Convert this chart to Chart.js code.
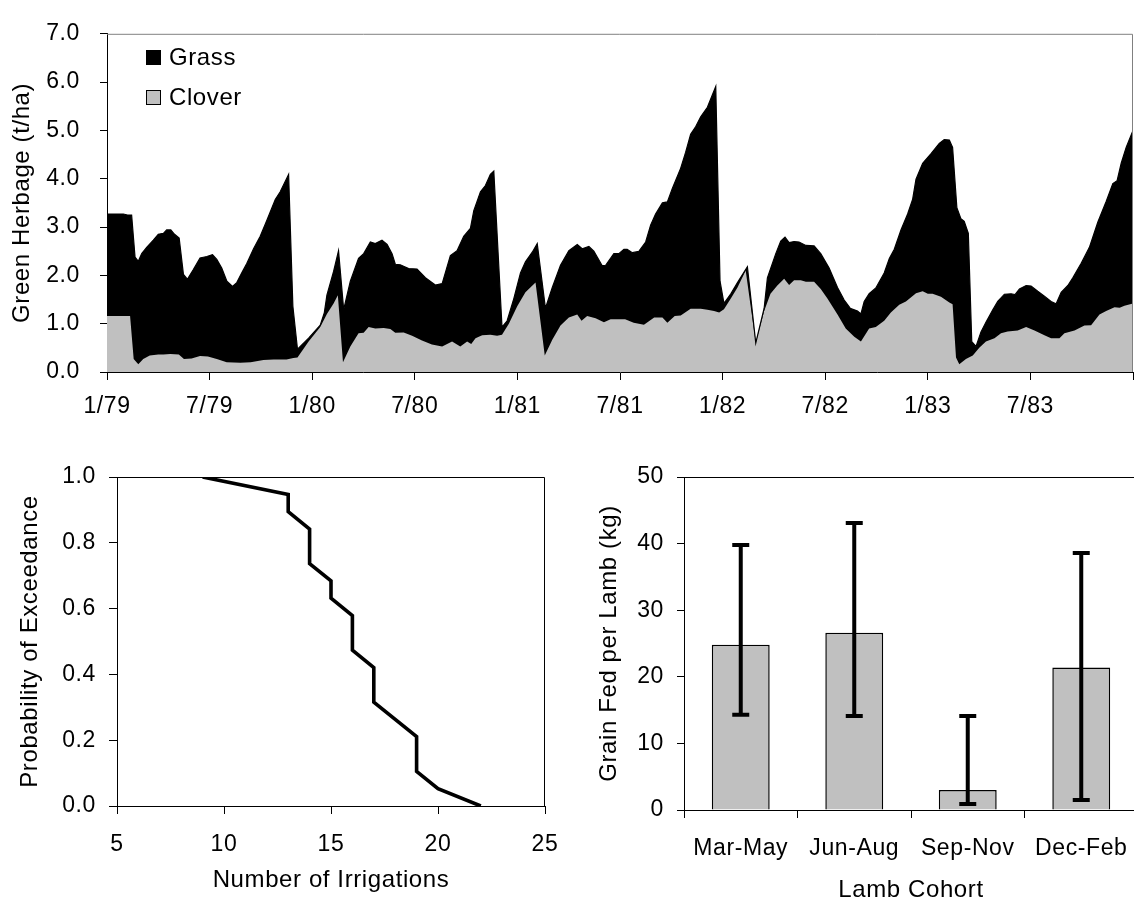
<!DOCTYPE html>
<html>
<head>
<meta charset="utf-8">
<script src="https://cdn.jsdelivr.net/npm/chart.js@4.4.1/dist/chart.umd.min.js"></script>
<style>
html,body{margin:0;padding:0;background:#fff;overflow:hidden;width:1134px;height:902px;}
.box{position:absolute;}
</style>
</head>
<body>
<div class="box" style="left:0;top:0;width:1134px;height:440px"><canvas id="herbage"></canvas></div>
<div class="box" style="left:0;top:440px;width:560px;height:470px"><canvas id="irrig"></canvas></div>
<div class="box" style="left:560px;top:440px;width:578px;height:470px"><canvas id="lamb"></canvas></div>
<script>
// ---------- DATA ----------
// Top chart: months since 1/79 (0 = Jan 1979 ... 60 = Jan 1984)
const totalMonths = [0,0.96,1.2,1.44,1.64,1.83,2.03,2.32,2.71,3.0,
  3.3,3.49,3.73,3.95,4.22,4.47,4.7,5.05,5.44,5.84,
  6.17,6.42,6.71,7.01,7.34,7.59,7.89,8.18,8.57,8.96,
  9.35,9.84,10.13,10.62,10.87,11.14,11.79,12.47,12.71,12.86,
  13.25,13.54,13.84,14.23,14.71,15.01,15.4,15.69,16.08,16.38,
  16.67,16.86,17.15,17.64,18.13,18.62,19.2,19.6,20.08,20.47,
  20.86,21.25,21.45,21.84,22.13,22.42,22.62,23.1,23.4,23.79,
  24.18,24.47,24.87,25.16,25.64,26.04,26.52,27.01,27.5,27.79,
  28.18,28.47,28.96,29.16,29.64,29.93,30.23,30.42,30.72,31.11,
  31.5,31.79,32.08,32.48,32.77,33.06,33.55,33.84,34.13,34.43,
  34.72,35.11,35.34,35.6,35.85,36.08,36.48,36.87,37.45,37.94,
  38.43,38.62,39.11,39.4,39.65,39.89,40.18,40.47,40.87,41.35,
  41.74,42.23,42.72,43.11,43.46,43.89,44.09,44.28,44.57,44.96,
  45.45,45.75,46.04,46.43,46.82,47.11,47.31,47.7,48.19,48.67,
  48.96,49.26,49.45,49.7,49.94,50.13,50.37,50.57,50.82,51.11,
  51.4,51.8,52.09,52.48,52.87,53.1,53.36,53.75,54.04,54.43,
  54.82,55.21,55.5,55.8,56.19,56.48,56.97,57.45,57.94,58.43,
  58.82,59.07,59.31,59.6,60];
// grass + clover (top edge of the black area), t/ha
const totalHerbage = [3.27,3.27,3.25,3.25,2.38,2.29,2.45,2.58,2.73,2.85,
  2.87,2.94,2.94,2.85,2.77,2.02,1.92,2.12,2.36,2.39,
  2.43,2.33,2.15,1.88,1.77,1.85,2.06,2.25,2.55,2.81,
  3.14,3.57,3.73,4.09,1.36,0.47,0.70,0.97,1.23,1.59,
  2.08,2.51,1.29,1.88,2.35,2.45,2.69,2.66,2.73,2.64,
  2.45,2.23,2.22,2.14,2.13,1.95,1.80,1.83,2.41,2.51,
  2.81,2.97,3.34,3.73,3.86,4.09,4.16,0.93,1.06,1.52,
  2.05,2.28,2.48,2.66,1.32,1.75,2.21,2.51,2.64,2.55,
  2.60,2.50,2.20,2.21,2.45,2.45,2.54,2.54,2.47,2.50,
  2.69,3.04,3.27,3.50,3.52,3.80,4.22,4.55,4.92,5.08,
  5.28,5.48,5.68,5.91,1.88,1.42,1.62,1.85,2.18,0.60,
  1.32,1.95,2.45,2.71,2.79,2.68,2.70,2.69,2.62,2.61,
  2.45,2.15,1.75,1.49,1.32,1.26,1.20,1.46,1.62,1.74,
  2.05,2.35,2.54,2.94,3.27,3.57,3.99,4.32,4.52,4.73,
  4.81,4.80,4.65,3.40,3.17,3.12,2.87,0.63,0.53,0.83,
  1.03,1.29,1.46,1.61,1.62,1.60,1.72,1.79,1.78,1.67,
  1.57,1.46,1.41,1.65,1.79,1.95,2.25,2.58,3.10,3.53,
  3.90,3.96,4.32,4.65,5.0];
const cloverMonths = [0,1.35,1.56,1.83,2.12,2.5,3.0,3.3,3.7,4.2,
  4.5,4.95,5.44,5.9,6.42,7.0,7.8,8.4,9.15,9.75,
  10.5,10.9,11.14,11.79,12.47,12.86,13.25,13.5,13.8,14.23,
  14.71,15.01,15.3,15.69,16.18,16.57,16.86,17.35,17.84,18.42,
  19.0,19.6,20.18,20.66,21.06,21.3,21.55,21.94,22.42,22.81,
  23.1,23.5,23.99,24.47,25.06,25.6,26.04,26.52,27.01,27.5,
  27.75,28.08,28.57,29.06,29.45,30.3,30.8,31.4,32.0,32.48,
  32.77,33.2,33.55,34.13,34.72,35.11,35.5,35.8,36.08,36.48,
  36.87,37.35,37.94,38.43,38.8,39.2,39.6,39.89,40.18,40.57,
  40.87,41.35,41.74,42.13,42.72,43.2,43.7,44.09,44.57,44.96,
  45.45,45.84,46.33,46.72,47.31,47.7,48.0,48.28,48.77,49.26,
  49.45,49.65,49.84,50.23,50.63,51.01,51.4,51.9,52.28,52.67,
  53.26,53.75,54.24,54.82,55.21,55.7,55.99,56.58,57.16,57.55,
  58.04,58.43,58.92,59.22,59.5,60];
const cloverHerbage = [1.16,1.16,0.27,0.16,0.27,0.34,0.36,0.36,0.37,0.36,
  0.27,0.28,0.33,0.32,0.27,0.20,0.19,0.20,0.25,0.26,
  0.26,0.29,0.30,0.63,0.93,1.20,1.42,1.59,0.20,0.53,
  0.80,0.81,0.93,0.90,0.91,0.89,0.81,0.82,0.75,0.65,
  0.57,0.53,0.63,0.53,0.63,0.58,0.70,0.76,0.77,0.75,
  0.77,1.00,1.36,1.65,1.85,0.34,0.67,0.96,1.13,1.19,
  1.06,1.16,1.11,1.03,1.09,1.09,1.02,0.98,1.13,1.13,
  1.02,1.16,1.17,1.31,1.31,1.29,1.26,1.23,1.30,1.52,
  1.75,2.10,0.60,1.26,1.62,1.79,1.93,1.80,1.90,1.90,
  1.87,1.87,1.72,1.52,1.19,0.90,0.73,0.63,0.90,0.93,
  1.06,1.23,1.39,1.46,1.63,1.67,1.62,1.62,1.56,1.44,
  1.40,0.30,0.16,0.27,0.34,0.50,0.63,0.70,0.80,0.84,
  0.86,0.93,0.86,0.76,0.70,0.70,0.80,0.86,0.96,0.97,
  1.19,1.26,1.34,1.33,1.37,1.42];
const herbageTickLabels = ['1/79','7/79','1/80','7/80','1/81','7/81','1/82','7/82','1/83','7/83'];

// Bottom-left: exceedance curve
const irrigations = [9,13,13,14,14,14,15,15,16,16,16,17,17,17,18,19,19,19,20,22];
const exceedance  = [1.0,0.947,0.895,0.842,0.789,0.737,0.684,0.632,0.579,0.526,0.474,0.421,0.368,0.316,0.263,0.211,0.158,0.105,0.053,0.0];

// Bottom-right: grain fed per lamb
const cohorts   = ['Mar-May','Jun-Aug','Sep-Nov','Dec-Feb'];
const grainMean = [24.8, 26.6, 3.0, 21.4];
const grainLow  = [14.3, 14.1, 0.9, 1.5];
const grainHigh = [39.8, 43.1, 14.1, 38.6];

// ---------- STYLE ----------
const FONT = '"Liberation Sans", Arial, Helvetica, sans-serif';
const LS = '0.6px';
Chart.defaults.font.family = FONT;
Chart.defaults.color = '#000';
Chart.defaults.animation = false;

const spacingPlugin = {
  id: 'spacing',
  beforeLayout(chart) { chart.ctx.letterSpacing = LS; },
  beforeDraw(chart) { chart.ctx.letterSpacing = LS; }
};
const framePlugin = {
  id: 'frame',
  afterDraw(chart, args, opts) {
    const {left, right, top, bottom} = chart.chartArea;
    const ctx = chart.ctx;
    ctx.save();
    ctx.strokeStyle = opts.color || '#000';
    ctx.lineWidth = 1;
    ctx.beginPath();
    ctx.moveTo(left, top + 0.5);
    ctx.lineTo(right - 0.5, top + 0.5);
    if (opts.right !== false) ctx.lineTo(right - 0.5, bottom);
    ctx.stroke();
    ctx.restore();
  }
};
const insideLegend = {
  id: 'insideLegend',
  afterDraw(chart, args, opts) {
    const ctx = chart.ctx;
    ctx.save();
    ctx.letterSpacing = LS;
    ctx.font = opts.size + 'px ' + FONT;
    ctx.textBaseline = 'middle';
    ctx.textAlign = 'left';
    chart.data.datasets.forEach((ds, k) => {
      const y = opts.y + k * opts.gap;
      ctx.fillStyle = ds.legendColor;
      ctx.fillRect(opts.x, y - 7.5, 15, 15);
      ctx.strokeStyle = '#000';
      ctx.lineWidth = 1;
      ctx.strokeRect(opts.x + 0.5, y - 7, 14, 14);
      ctx.fillStyle = '#000';
      ctx.fillText(ds.label, opts.x + 23, y + 1);
    });
    ctx.restore();
  }
};
const errorBars = {
  id: 'errorBars',
  afterDatasetsDraw(chart) {
    const meta = chart.getDatasetMeta(0);
    const ys = chart.scales.y;
    const ctx = chart.ctx;
    ctx.save();
    ctx.strokeStyle = '#000';
    ctx.lineWidth = 4;
    meta.data.forEach((bar, i) => {
      const x = bar.x;
      const yl = ys.getPixelForValue(grainLow[i]);
      const yh = ys.getPixelForValue(grainHigh[i]);
      ctx.beginPath();
      ctx.moveTo(x, yl); ctx.lineTo(x, yh);
      ctx.moveTo(x - 8.5, yh); ctx.lineTo(x + 8.5, yh);
      ctx.moveTo(x - 8.5, yl); ctx.lineTo(x + 8.5, yl);
      ctx.stroke();
    });
    ctx.restore();
  }
};
const noPad = s => { s.paddingLeft = 0; s.paddingRight = 0; };

const tickFont = {size: 23};
const titleFont = {size: 24};

// ---------- TOP CHART ----------
new Chart(document.getElementById('herbage'), {
  type: 'line',
  data: {
    datasets: [
      {
        label: 'Grass',
        data: totalMonths.map((m, i) => ({x: m, y: totalHerbage[i]})),
        borderColor: '#000', borderWidth: 1.2,
        backgroundColor: '#000', legendColor: '#000',
        fill: 'origin', pointRadius: 0, tension: 0, order: 2
      },
      {
        label: 'Clover',
        data: cloverMonths.map((m, i) => ({x: m, y: cloverHerbage[i]})),
        borderColor: 'rgba(0,0,0,0)', borderWidth: 1,
        backgroundColor: '#C0C0C0', legendColor: '#C0C0C0',
        fill: 'origin', pointRadius: 0, tension: 0, order: 1
      }
    ]
  },
  options: {
    responsive: true, maintainAspectRatio: false,
    layout: {padding: {top: 18, right: 1, left: 0, bottom: 0}},
    plugins: {
      legend: {display: false}, tooltip: {enabled: false},
      filler: {drawTime: 'beforeDatasetsDraw'},
      frame: {color: '#808080'},
      insideLegend: {x: 146, y: 57.5, gap: 40, size: 24}
    },
    scales: {
      x: {
        type: 'linear', min: 0, max: 60, z: 1,
        afterFit: s => { s.height = 68; noPad(s); },
        ticks: {stepSize: 6, autoSkip: false, maxRotation: 0, font: tickFont, padding: 13,
          callback: v => herbageTickLabels[v / 6] || ''},
        grid: {drawOnChartArea: false, tickLength: 8, color: '#000'},
        border: {color: '#000'}
      },
      y: {
        min: 0, max: 7, z: 1,
        afterFit: s => { s.width = 107; },
        ticks: {stepSize: 1, font: tickFont, padding: 20, callback: v => v.toFixed(1)},
        grid: {drawOnChartArea: false, tickLength: 7, color: '#000'},
        border: {color: '#000'},
        title: {display: true, text: 'Green Herbage (t/ha)', font: titleFont, padding: {top: 8, bottom: 0}}
      }
    }
  },
  plugins: [spacingPlugin, framePlugin, insideLegend]
});

// ---------- BOTTOM-LEFT CHART ----------
new Chart(document.getElementById('irrig'), {
  type: 'line',
  data: {
    datasets: [{
      label: 'Probability of Exceedance',
      data: irrigations.map((v, i) => ({x: v, y: exceedance[i]})),
      borderColor: '#000', borderWidth: 3.6, pointRadius: 0, tension: 0, fill: false
    }]
  },
  options: {
    responsive: true, maintainAspectRatio: false,
    layout: {padding: {top: 37, right: 15, left: 0, bottom: 0}},
    plugins: {legend: {display: false}, tooltip: {enabled: false}, frame: {color: '#000'}},
    scales: {
      x: {
        type: 'linear', min: 5, max: 25,
        afterFit: s => { s.height = 104; noPad(s); },
        ticks: {stepSize: 5, font: tickFont, padding: 17, maxRotation: 0},
        grid: {drawOnChartArea: false, tickLength: 8, color: '#000'},
        border: {color: '#000'},
        title: {display: true, text: 'Number of Irrigations', font: titleFont, padding: {top: 0, bottom: 15}}
      },
      y: {
        min: 0, max: 1,
        afterFit: s => { s.width = 117; },
        ticks: {stepSize: 0.2, font: tickFont, padding: 13, callback: v => v.toFixed(1)},
        grid: {drawOnChartArea: false, tickLength: 8, color: '#000'},
        border: {color: '#000'},
        title: {display: true, text: 'Probability of Exceedance', font: titleFont, padding: {top: 16, bottom: 0}}
      }
    }
  },
  plugins: [spacingPlugin, framePlugin]
});

// ---------- BOTTOM-RIGHT CHART ----------
new Chart(document.getElementById('lamb'), {
  type: 'bar',
  data: {
    labels: cohorts,
    datasets: [{
      label: 'Grain Fed per Lamb (kg)',
      data: grainMean,
      backgroundColor: '#C0C0C0', borderColor: '#000', borderWidth: 1.5,
      categoryPercentage: 1.0, barPercentage: 0.51
    }]
  },
  options: {
    responsive: true, maintainAspectRatio: false,
    layout: {padding: {top: 37, right: 0, left: 0, bottom: 0}},
    plugins: {legend: {display: false}, tooltip: {enabled: false}, frame: {color: '#000', right: false}},
    scales: {
      x: {
        afterFit: s => { s.height = 100; noPad(s); },
        ticks: {font: tickFont, padding: 17, maxRotation: 0, autoSkip: false},
        grid: {drawOnChartArea: false, offset: true, tickLength: 8, color: '#000'},
        border: {color: '#000'},
        title: {display: true, text: 'Lamb Cohort', font: titleFont, padding: {top: 0, bottom: 5}}
      },
      y: {
        min: 0, max: 50,
        afterFit: s => { s.width = 124; },
        ticks: {stepSize: 10, font: tickFont, padding: 13},
        grid: {drawOnChartArea: false, tickLength: 7, color: '#000'},
        border: {color: '#000'},
        title: {display: true, text: 'Grain Fed per Lamb (kg)', font: titleFont, padding: {top: 35, bottom: 0}}
      }
    }
  },
  plugins: [spacingPlugin, framePlugin, errorBars]
});
</script>
</body>
</html>
